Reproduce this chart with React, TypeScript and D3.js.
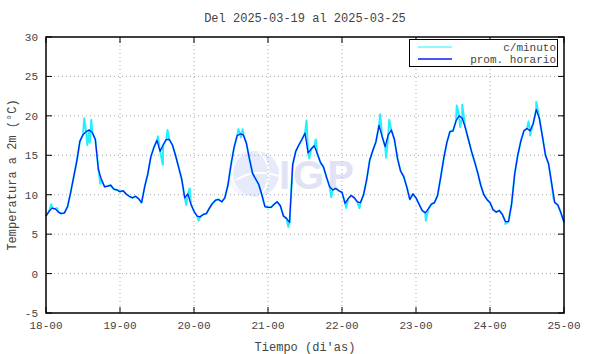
import * as d3 from "d3"

// hourly averages (°C), one array per day, starting at 00h
const day18 = [7.3, 7.9, 8.3, 8.2, 7.8, 7.6, 7.7, 8.5, 10.3, 12.3, 14.3, 16.8, 17.6, 18.0, 18.2, 17.9, 17.0, 13.2, 11.9, 11.0, 11.1, 11.2, 10.7, 10.6]
const day19 = [10.4, 10.5, 10.1, 9.8, 9.6, 9.8, 9.5, 9.0, 11.0, 12.6, 14.8, 16.0, 16.9, 15.5, 16.3, 17.0, 17.0, 16.3, 15.0, 13.5, 12.0, 9.6, 10.1, 8.8]
const day20 = [7.9, 7.3, 7.2, 7.5, 7.6, 8.3, 8.9, 9.3, 9.4, 9.1, 9.6, 11.2, 13.8, 16.0, 17.5, 17.7, 17.6, 16.5, 14.5, 12.7, 12.0, 11.3, 10.0, 8.5]
const day21 = [8.4, 8.4, 8.8, 9.1, 8.6, 7.3, 7.0, 6.5, 13.8, 15.5, 16.3, 17.0, 17.8, 15.3, 15.8, 16.2, 15.2, 14.1, 13.5, 12.2, 11.0, 10.6, 10.8, 10.5]
const day22 = [10.3, 8.9, 9.5, 9.9, 9.6, 9.1, 9.0, 10.0, 11.9, 14.4, 15.6, 16.7, 18.8, 17.4, 16.1, 17.6, 18.2, 17.0, 14.6, 13.0, 12.3, 11.0, 9.4, 10.1]
const day23 = [9.6, 8.8, 8.0, 7.7, 8.2, 8.8, 9.0, 9.9, 12.2, 14.6, 16.6, 18.0, 18.1, 19.4, 20.0, 19.7, 18.5, 17.0, 15.5, 14.2, 12.8, 11.2, 10.0, 9.4]
const day24 = [9.0, 8.1, 7.8, 8.0, 7.5, 6.6, 6.6, 8.8, 12.6, 15.0, 16.8, 18.1, 18.4, 18.1, 19.0, 20.8, 19.7, 17.4, 15.0, 13.9, 11.4, 9.0, 8.7, 7.7]
const end25 = 6.5

// extra per-minute readings that stick out of the hourly line: [hours since 18-00, °C]
const minuteSpikes: [number, number][] = [
  [1.7, 8.8], [3.6, 8.3], [12.4, 19.7], [13.4, 16.3], [14.2, 16.6], [14.7, 19.5], [17.6, 11.4],
  [36.3, 17.4], [37.9, 13.8], [39.4, 18.2], [45.5, 8.7], [46.6, 10.8],
  [49.5, 6.7], [62.4, 18.3], [63.2, 17.3], [63.8, 18.3],
  [78.6, 5.9], [84.5, 19.4], [85.4, 14.6], [87.5, 17.0], [92.5, 9.7],
  [97.4, 8.3], [101.7, 8.3], [108.4, 20.2], [110.3, 14.7], [111.3, 19.5],
  [123.2, 6.7], [133.2, 21.3], [134.3, 18.6], [135.0, 21.4],
  [149.0, 6.3], [156.5, 19.3], [157.0, 17.5], [159.0, 21.8], [164.5, 9.7],
]

const xTickLabels = ["18-00", "19-00", "20-00", "21-00", "22-00", "23-00", "24-00", "25-00"]
const yTicks = [-5, 0, 5, 10, 15, 20, 25, 30]

const W = 590
const H = 354
const plot = { left: 46, right: 564, top: 37, bottom: 313 }
const mono = "'Liberation Mono', 'DejaVu Sans Mono', monospace"
const textColor = "#444"

export default function App() {
  const hourly = [...day18, ...day19, ...day20, ...day21, ...day22, ...day23, ...day24, end25]
  const hourlyPts: [number, number][] = hourly.map((v, i) => [i, v])
  const minutePts: [number, number][] = [...hourlyPts, ...minuteSpikes].sort((a, b) => a[0] - b[0])

  const x = d3.scaleLinear().domain([0, (xTickLabels.length - 1) * 24]).range([plot.left, plot.right])
  const y = d3.scaleLinear().domain([-5, 30]).range([plot.bottom, plot.top])

  const line = d3
    .line<[number, number]>()
    .x((d) => x(d[0]))
    .y((d) => y(d[1]))

  const xTicks = xTickLabels.map((label, i) => ({ label, pos: x(i * 24) }))
  const cx = (plot.left + plot.right) / 2

  return (
    <svg width={W} height={H} style={{ position: "absolute", left: 0, top: 0, background: "#fff" }}>
      <rect x={0} y={0} width={W} height={H} fill="#fff" />

      {/* watermark */}
      <g opacity={0.85}>
        <circle cx={256} cy={174} r={23} fill="#e2e8fb" />
        <path d="M246,152 A23,23 0 0 0 246,196" fill="none" stroke="#f2f5fe" strokeWidth={3} />
        <path d="M258,151 A30,30 0 0 1 258,197" fill="none" stroke="#ffffff" strokeWidth={2} />
        <path d="M266,153 A22,22 0 0 1 266,195" fill="none" stroke="#ffffff" strokeWidth={2} />
        <path d="M236,180 Q256,168 279,176" fill="none" stroke="#ffffff" strokeWidth={2} />
        <text
          x={279}
          y={189}
          fontFamily="'Liberation Sans', Arial, sans-serif"
          fontWeight="bold"
          fontSize={40}
          letterSpacing={3}
          fill="#dcdff4"
        >
          IGP
        </text>
      </g>

      {/* grid */}
      <g stroke="#a8a8a8" strokeWidth={1} strokeDasharray="1,3">
        {xTicks.slice(1, -1).map((t) => (
          <line key={t.label} x1={t.pos} x2={t.pos} y1={plot.top} y2={plot.bottom} />
        ))}
        {yTicks.slice(1, -1).map((v) => (
          <line key={v} x1={plot.left} x2={plot.right} y1={y(v)} y2={y(v)} />
        ))}
      </g>

      {/* ticks */}
      <g stroke="#000" strokeWidth={1}>
        {xTicks.map((t) => (
          <g key={t.label}>
            <line x1={t.pos} x2={t.pos} y1={plot.top} y2={plot.top + 6} />
            <line x1={t.pos} x2={t.pos} y1={plot.bottom} y2={plot.bottom - 6} />
          </g>
        ))}
        {yTicks.map((v) => (
          <g key={v}>
            <line x1={plot.left} x2={plot.left + 6} y1={y(v)} y2={y(v)} />
            <line x1={plot.right} x2={plot.right - 6} y1={y(v)} y2={y(v)} />
          </g>
        ))}
      </g>

      {/* series */}
      <path d={line(minutePts) ?? ""} fill="none" stroke="#22f0ff" strokeWidth={2} strokeLinejoin="round" />
      <path d={line(hourlyPts) ?? ""} fill="none" stroke="#0a1ef5" strokeWidth={1.3} strokeLinejoin="round" />

      {/* frame */}
      <rect
        x={plot.left}
        y={plot.top}
        width={plot.right - plot.left}
        height={plot.bottom - plot.top}
        fill="none"
        stroke="#000"
        strokeWidth={1.5}
      />

      {/* tick labels */}
      <g fontFamily={mono} fontSize={11} fill={textColor}>
        {xTicks.map((t) => (
          <text key={t.label} x={t.pos} y={plot.bottom + 16} textAnchor="middle">
            {t.label}
          </text>
        ))}
        {yTicks.map((v) => (
          <text key={v} x={plot.left - 8} y={y(v) + 4} textAnchor="end">
            {v}
          </text>
        ))}
      </g>

      {/* titles */}
      <g fontFamily={mono} fontSize={12} fill={textColor}>
        <text x={cx} y={22} textAnchor="middle">
          Del 2025-03-19 al 2025-03-25
        </text>
        <text x={cx} y={351} textAnchor="middle">
          Tiempo (di'as)
        </text>
        <text transform={`translate(16, ${(plot.top + plot.bottom) / 2}) rotate(-90)`} textAnchor="middle">
          Temperatura a 2m (°C)
        </text>
      </g>

      {/* legend */}
      <g>
        <rect x={409.5} y={39.5} width={148} height={27} fill="#fff" stroke="#000" strokeWidth={1} />
        <line x1={418} x2={452} y1={47} y2={47} stroke="#22f0ff" strokeWidth={1} />
        <line x1={418} x2={452} y1={59} y2={59} stroke="#0a1ef5" strokeWidth={1.3} />
        <g fontFamily={mono} fontSize={11} fill={textColor} textAnchor="end">
          <text x={556} y={50.5}>
            c/minuto
          </text>
          <text x={556} y={62.5}>
            prom. horario
          </text>
        </g>
      </g>
    </svg>
  )
}
